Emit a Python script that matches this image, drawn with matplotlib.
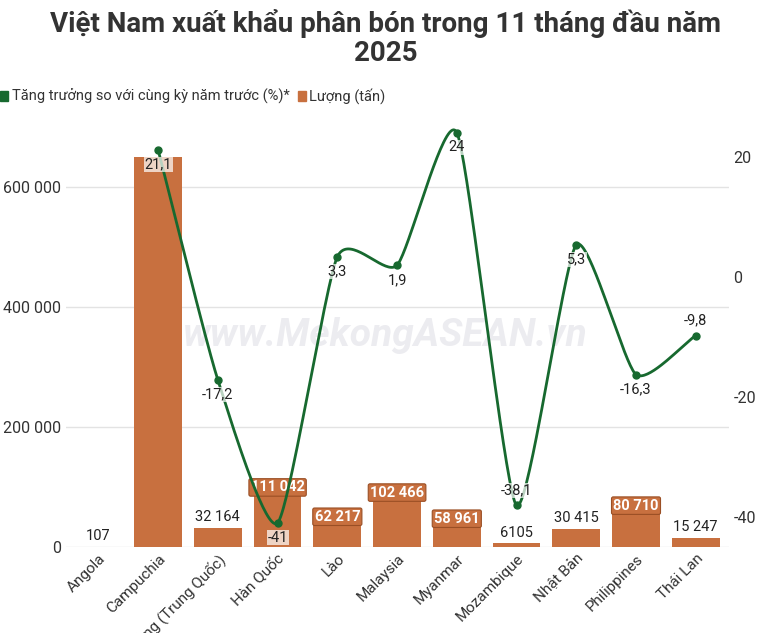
import numpy as np
import matplotlib.pyplot as plt

plt.rcParams['axes.unicode_minus'] = False
plt.rcParams['font.family'] = ['Roboto', 'DejaVu Sans']

countries = ["Angola", "Campuchia", "Hồng Kông (Trung Quốc)", "Hàn Quốc", "Lào", "Malaysia",
             "Myanmar", "Mozambique", "Nhật Bản", "Philippines", "Thái Lan"]
volume = [107, 649500, 32164, 111042, 62217, 102466, 58961, 6105, 30415, 80710, 15247]
volume_labels = ["107", "", "32 164", "111 042", "62 217", "102 466", "58 961", "6105",
                 "30 415", "80 710", "15 247"]
growth = [None, 21.1, -17.2, -41, 3.3, 1.9, 24, -38.1, 5.3, -16.3, -9.8]
growth_labels = ["", "21,1", "-17,2", "-41", "3,3", "1,9", "24", "-38,1", "5,3", "-16,3", "-9,8"]

bar_c = "#c8703f"
line_c = "#17692f"

fig = plt.figure(figsize=(7.71, 6.33), dpi=100)
ax = fig.add_axes([0.085, 0.136, 0.86, 0.667])
ax2 = ax.twinx()

x = np.arange(len(countries))
ax.bar(x, volume, width=0.8, color=bar_c, zorder=2)
ax.set_ylim(0, 703000)
ax.set_xlim(-0.55, 10.55)
ax.set_yticks([0, 200000, 400000, 600000])
ax.set_yticklabels(["0", "200 000", "400 000", "600 000"], fontsize=11.5, color="#333")
ax.grid(axis="y", color="#e3e3e3", lw=1, zorder=0)
ax.set_xticks(x)
ax.set_xticklabels(countries, rotation=45, ha="right", rotation_mode="anchor", fontsize=11, color="#333")
for s in ["top", "right", "left", "bottom"]:
    ax.spines[s].set_visible(False)
    ax2.spines[s].set_visible(False)
ax.tick_params(length=0)
ax2.tick_params(length=0, labelsize=11.5, labelcolor="#333")

ax.text(0.5, 0.47, "www.MekongASEAN.vn", ha="center", va="center", fontsize=28,
        fontstyle="italic", fontweight="bold", color="#ececf0", zorder=1,
        transform=fig.transFigure)

for i, (v, lab) in enumerate(zip(volume, volume_labels)):
    if not lab:
        continue
    if v > 50000:
        ax.text(i, v - 12000, lab, ha="center", va="center", fontsize=10.5, color="white",
                fontweight="bold", zorder=5,
                bbox=dict(boxstyle="round,pad=0.12", fc=bar_c, ec="#9a4f25", lw=0.8))
    else:
        ax.text(i, v + 6000, lab, ha="center", va="bottom", fontsize=10.5, color="#222", zorder=5)

# smooth curve through growth points (cardinal spline, reduced tension)
px = np.array([i for i, g in enumerate(growth) if g is not None], float)
py = np.array([g for g in growth if g is not None], float)
P = np.column_stack([px, py])
m = np.zeros_like(P)
m[1:-1] = (P[2:] - P[:-2]) * 0.5 * 0.6
m[0] = (P[1] - P[0]) * 0.6
m[-1] = (P[-1] - P[-2]) * 0.6
cx, cy = [], []
t = np.linspace(0, 1, 40)[:, None]
h00 = 2 * t**3 - 3 * t**2 + 1
h10 = t**3 - 2 * t**2 + t
h01 = -2 * t**3 + 3 * t**2
h11 = t**3 - t**2
for k in range(len(P) - 1):
    c = h00 * P[k] + h10 * m[k] + h01 * P[k + 1] + h11 * m[k + 1]
    cx.extend(c[:, 0]); cy.extend(c[:, 1])
ax2.plot(cx, cy, color=line_c, lw=2, zorder=3)
ax2.scatter(px, py, color=line_c, s=25, zorder=4)
ax2.set_ylim(-45, 25.3)
ax2.set_yticks([-40, -20, 0, 20])
for i, g in enumerate(growth):
    if g is None:
        continue
    above = growth_labels[i] in ("-38,1", "-9,8")
    ax2.text(i, g + 1.3 if above else g - 1.3, growth_labels[i], ha="center",
             va="bottom" if above else "top", fontsize=10.5, color="#222", zorder=6,
             bbox=dict(boxstyle="square,pad=0.05", fc="white", ec="none", alpha=0.7))

fig.text(0.5, 0.94, "Việt Nam xuất khẩu phân bón trong 11 tháng đầu năm\n2025", ha="center",
         va="center", fontsize=20, fontweight="bold", color="#333", linespacing=1.1)

fig.patches.append(plt.Rectangle((0.0, 0.84), 0.011, 0.017, transform=fig.transFigure,
                                 color=line_c))
fig.text(0.016, 0.848, "Tăng trưởng so với cùng kỳ năm trước (%)*", fontsize=10.5, va="center", color="#333")
fig.patches.append(plt.Rectangle((0.386, 0.84), 0.011, 0.017, transform=fig.transFigure,
                                 color=bar_c))
fig.text(0.401, 0.848, "Lượng (tấn)", fontsize=10.5, va="center", color="#333")

fig.savefig("out.png")
